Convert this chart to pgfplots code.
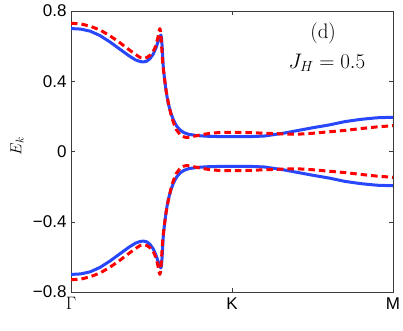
\RequirePackage{fix-cm}
\documentclass[border=0pt]{standalone}
\usepackage{fontspec}
\usepackage{pgfplots}
\usepackage{pgfplotstable}
\pgfplotsset{compat=1.18}
\newfontfamily\arial{Liberation Sans}
\definecolor{cBlue}{RGB}{40,70,250}
\definecolor{cRed}{RGB}{255,0,0}
\definecolor{cAxis}{RGB}{60,60,60}

% upper bands (lower bands are their mirror images)
\pgfplotstableread{
x y
0 0.700
0.03 0.697
0.06 0.685
0.09 0.660
0.12 0.625
0.15 0.585
0.18 0.545
0.20 0.522
0.215 0.512
0.225 0.510
0.235 0.514
0.245 0.528
0.255 0.553
0.265 0.595
0.272 0.635
0.277 0.657
0.279 0.663
0.281 0.650
0.283 0.600
0.287 0.470
0.292 0.390
0.297 0.325
0.302 0.274
0.310 0.220
0.318 0.180
0.328 0.145
0.339 0.122
0.35 0.108
0.365 0.098
0.39 0.091
0.42 0.087
0.46 0.085
0.50 0.084
0.546 0.084
0.60 0.088
0.659 0.104
0.70 0.118
0.75 0.135
0.804 0.152
0.85 0.170
0.90 0.183
0.95 0.192
1.0 0.195
}\bluetab

\pgfplotstableread{
x y
0 0.730
0.03 0.727
0.06 0.713
0.09 0.692
0.12 0.660
0.15 0.622
0.18 0.580
0.20 0.553
0.215 0.535
0.225 0.531
0.235 0.535
0.245 0.547
0.255 0.568
0.263 0.600
0.270 0.650
0.274 0.690
0.276 0.700
0.278 0.685
0.280 0.640
0.285 0.500
0.290 0.420
0.295 0.350
0.302 0.280
0.310 0.215
0.318 0.165
0.328 0.122
0.338 0.098
0.348 0.085
0.358 0.080
0.370 0.082
0.385 0.088
0.40 0.094
0.43 0.103
0.46 0.108
0.50 0.109
0.55 0.108
0.60 0.104
0.66 0.100
0.70 0.098
0.752 0.104
0.80 0.112
0.856 0.121
0.908 0.132
0.95 0.140
1.0 0.147
}\redtab

\begin{document}
\begin{tikzpicture}
\begin{axis}[
  name=ax,
  scale only axis, width=322pt, height=281pt,
  xmin=0, xmax=1, ymin=-0.8, ymax=0.8,
  xtick={0,0.5,1},
  xticklabels={{\fontsize{18}{20}\selectfont$\Gamma$}, {\arial K}, {\arial M}},
  ytick={-0.8,-0.4,0,0.4,0.8},
  yticklabels={−0.8,−0.4,0,0.4,0.8},
  yticklabel style={font=\arial\fontsize{17}{19}\selectfont, xshift=-1pt},
  xticklabel style={font=\arial\fontsize{17}{19}\selectfont, yshift=-2pt},
  tick align=inside, major tick length=4pt,
  axis line style={cAxis, line width=0.6pt},
  tick style={cAxis, line width=0.5pt},
  ylabel={$E_k$},
  every axis y label/.style={at={(rel axis cs:0,0.52)}, xshift=-54pt, rotate=90, anchor=center, font=\fontsize{16}{18}\selectfont},
  every axis plot/.append style={line join=round},
  clip=true,
]
\addplot[cBlue, line width=3pt] table[x=x, y=y] {\bluetab};
\addplot[cBlue, line width=3pt] table[x=x, y expr=-\thisrow{y}] {\bluetab};
\addplot[cRed, line width=3pt, dash pattern=on 6.5pt off 4pt] table[x=x, y=y] {\redtab};
\addplot[cRed, line width=3pt, dash pattern=on 6.5pt off 4pt] table[x=x, y expr=-\thisrow{y}] {\redtab};
\node[font=\fontsize{21}{23}\selectfont] at (rel axis cs:0.783,0.922) {(d)};
\node[font=\fontsize{21}{23}\selectfont] at (rel axis cs:0.795,0.815) {$J_H = 0.5$};
\end{axis}
\pgfresetboundingbox
\path ([shift={(-71pt,-38pt)}]ax.south west) rectangle ([shift={(10pt,11pt)}]ax.north east);
\end{tikzpicture}
\end{document}
